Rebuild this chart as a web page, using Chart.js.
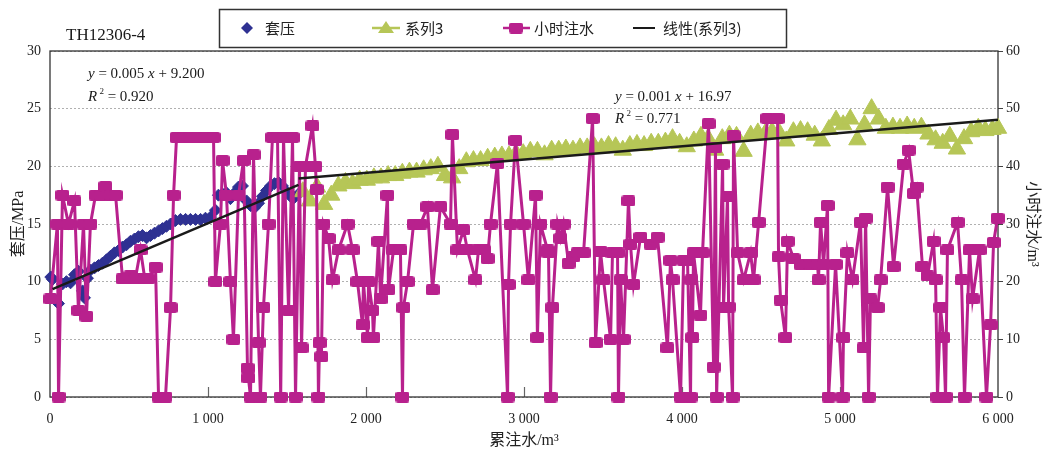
<!DOCTYPE html>
<html>
<head>
<meta charset="utf-8">
<script src="https://cdn.jsdelivr.net/npm/chart.js@4.4.0/dist/chart.umd.min.js"></script>
<style>
  html, body { margin: 0; padding: 0; background: #fff; }
  #wrap { width: 1042px; height: 450px; }
</style>
</head>
<body>
<div id="wrap"><canvas id="chart" width="1042" height="450"></canvas></div>
<script>
// 套压 (MPa, left axis) against 累注水 (m3)
const pressX = [5, 16, 35, 54, 79, 104, 130, 155, 180, 206, 218, 237, 256, 282, 307, 332, 358, 383, 408, 434,
  459, 484, 509, 535, 560, 585, 611, 636, 661, 687, 712, 737, 763, 794, 826, 858, 889, 921, 953, 984,
  1016, 1047, 1066, 1092, 1117, 1142, 1168, 1193, 1218, 1244, 1269, 1294, 1320, 1345, 1370, 1396, 1421, 1446, 1471, 1497,
  1522, 1547, 1573];
const pressY = [10.4, 10.2, 8.4, 8.1, 9.8, 10.0, 9.9, 10.6, 10.9, 9.2, 8.6, 10.3, 11.0, 11.2, 11.4, 11.6, 11.9, 12.2, 12.5, 12.7,
  13.0, 13.2, 13.5, 13.7, 13.9, 14.0, 13.8, 14.0, 14.2, 14.4, 14.6, 14.8, 15.0, 15.3, 15.4, 15.4, 15.4, 15.4, 15.4, 15.5,
  15.6, 16.2, 17.5, 17.6, 17.7, 17.2, 17.7, 18.2, 18.3, 17.0, 16.6, 16.4, 16.8, 17.4, 17.9, 18.3, 18.5, 18.6, 18.3, 17.8,
  17.4, 17.3, 17.6];

// 系列3 (MPa, left axis)
const s3X = [1600, 1645, 1690, 1735, 1780, 1825, 1870, 1915, 1960, 2005, 2050, 2095, 2140, 2185, 2230, 2275, 2320, 2365, 2410, 2455,
  2500, 2545, 2590, 2635, 2680, 2725, 2770, 2815, 2860, 2905, 2950, 2995, 3040, 3085, 3130, 3175, 3220, 3265, 3310, 3355,
  3400, 3445, 3490, 3535, 3580, 3625, 3670, 3715, 3760, 3805, 3850, 3895, 3940, 3985, 4030, 4075, 4120, 4165, 4210, 4255,
  4300, 4345, 4390, 4435, 4480, 4525, 4570, 4615, 4660, 4705, 4750, 4795, 4840, 4885, 4930, 4975, 5020, 5065, 5110, 5155,
  5200, 5245, 5290, 5335, 5380, 5425, 5470, 5515, 5560, 5605, 5650, 5695, 5740, 5785, 5830, 5875, 5920, 5965, 6000];
const s3Y = [17.8, 17.0, 18.2, 16.7, 17.5, 18.3, 18.6, 18.5, 18.8, 18.8, 19.0, 19.0, 19.2, 19.2, 19.4, 19.5, 19.5, 19.7, 19.8, 20.0,
  19.2, 19.0, 19.8, 20.4, 20.5, 20.5, 20.7, 20.8, 20.9, 20.9, 21.1, 21.1, 21.3, 21.3, 21.0, 21.4, 21.4, 21.5, 21.4, 21.6,
  21.6, 21.7, 21.6, 21.8, 21.7, 21.4, 21.8, 21.9, 21.8, 22.0, 22.0, 22.1, 22.4, 22.0, 21.7, 22.2, 22.6, 22.4, 21.4, 22.4,
  22.7, 22.6, 21.3, 22.7, 22.9, 22.8, 23.0, 22.9, 22.2, 23.0, 23.1, 23.0, 22.7, 22.2, 23.2, 24.0, 23.6, 24.1, 22.3, 23.6,
  25.0, 24.1, 23.3, 23.4, 23.3, 23.5, 23.3, 23.4, 22.8, 22.3, 22.0, 22.6, 21.5, 22.4, 23.0, 23.3, 23.1, 23.2, 23.3];

// 小时注水 (m3, right axis)
const waterX = [3, 47, 54, 79, 117, 155, 180, 212, 231, 256, 288, 320, 351, 383, 415, 459, 490, 509, 540, 573,
  600, 623, 668, 687, 731, 763, 782, 801, 845, 889, 935, 984, 1035, 1047, 1079, 1092, 1117, 1142, 1161, 1193,
  1225, 1250, 1256, 1269, 1288, 1320, 1332, 1351, 1383, 1408, 1440, 1460, 1478, 1510, 1535, 1554, 1579, 1592, 1617, 1661,
  1680, 1687, 1699, 1706, 1718, 1731, 1763, 1788, 1826, 1883, 1915, 1946, 1978, 1984, 2010, 2016, 2041, 2047, 2079, 2092,
  2136, 2142, 2174, 2218, 2231, 2237, 2263, 2301, 2345, 2389, 2421, 2471, 2535, 2547, 2579, 2617, 2642, 2693, 2712, 2744,
  2769, 2788, 2832, 2896, 2902, 2915, 2946, 2997, 3028, 3073, 3085, 3104, 3149, 3155, 3168, 3180, 3212, 3231, 3250, 3282,
  3313, 3339, 3377, 3434, 3453, 3484, 3503, 3548, 3560, 3592, 3598, 3611, 3630, 3661, 3674, 3693, 3737, 3801, 3845, 3908,
  3927, 3940, 3991, 4010, 4035, 4054, 4060, 4066, 4073, 4117, 4130, 4168, 4200, 4212, 4219, 4257, 4263, 4288, 4295, 4320,
  4326, 4352, 4390, 4434, 4453, 4485, 4541, 4605, 4611, 4624, 4655, 4668, 4706, 4750, 4813, 4858, 4864, 4877, 4896, 4921,
  4928, 4972, 5016, 5022, 5047, 5079, 5130, 5149, 5162, 5181, 5193, 5238, 5257, 5301, 5339, 5403, 5434, 5466, 5485, 5522,
  5554, 5592, 5605, 5617, 5636, 5655, 5668, 5680, 5744, 5769, 5788, 5820, 5839, 5883, 5927, 5953, 5972, 5997];
const waterY = [17, 30, 0, 35, 30, 34, 15, 30, 14, 30, 35, 35, 36.5, 35, 35, 20.5, 20.5, 21, 20.5, 25.5,
  20.5, 20.5, 22.5, 0, 0, 15.5, 35, 45, 45, 45, 45, 45, 45, 20, 30, 41, 35, 20, 10, 35,
  41, 5, 3.3, 0, 42, 9.4, 0, 15.5, 30, 45, 45, 0, 45, 15, 45, 0, 40, 8.5, 40, 47,
  40, 36, 0, 9.4, 7, 30, 27.5, 20.3, 25.5, 30, 25.5, 20, 12.5, 20, 10.3, 20, 15, 10.3, 27, 17,
  35, 18.6, 25.5, 25.5, 0, 15.5, 20, 30, 30, 33, 18.6, 33, 30, 45.5, 25.5, 29, 25.5, 20.3, 25.5, 25.5,
  24, 30, 40.5, 0, 19.5, 30, 44.5, 30, 20.3, 35, 10.3, 30, 25.5, 25, 0, 15.5, 30, 27.5, 30, 23.2,
  24.3, 25, 25, 48.3, 9.4, 25.3, 20.3, 10, 25, 25, 0, 20.3, 10, 34, 26.5, 19.5, 27.7, 26.5, 27.7, 8.5,
  23.7, 20.3, 0, 23.7, 23.7, 0, 20.3, 10.3, 25, 14.2, 25, 47.4, 5.2, 43.3, 0, 40.4, 15.6, 34.7, 15.6, 0,
  45.3, 25, 20.3, 25, 20.3, 30.3, 48.3, 48.3, 24.3, 16.8, 10.3, 27, 24, 23, 23, 23, 20.3, 30.3, 23, 33.2,
  0, 23, 0, 10.3, 25, 20.3, 30.3, 8.5, 31, 0, 17, 15.5, 20.3, 36.4, 22.6, 40.4, 42.8, 35.3, 36.4, 22.6,
  21, 27, 20.3, 0, 15.5, 10.3, 0, 25.5, 30.3, 20.3, 0, 25.5, 17, 25.5, 0, 12.5, 26.8, 31];

// trend lines as drawn in the picture
const trendAX = [16, 1573];
const trendAY = [9.36, 18.4];
const trendBX = [1573, 6000];
const trendBY = [18.95, 24.05];

const xTickValues = [0, 1000, 2000, 3000, 4000, 5000, 6000];
const leftTickValues = [0, 5, 10, 15, 20, 25, 30];
const rightTickValues = [0, 10, 20, 30, 40, 50, 60];

const NAVY = '#2E3192';
const GREEN = '#B6C657';
const MAG = '#B8218D';
const SERIF = '"Liberation Serif", "Noto Sans CJK SC", serif';
const CJK = '"Noto Sans CJK SC", "Liberation Serif", sans-serif';

const pts = (xs, ys) => xs.map((x, i) => ({ x: x, y: ys[i] }));

function makeSquare(w, h, color) {
    const c = document.createElement('canvas');
    c.width = w; c.height = h;
    const g = c.getContext('2d');
    g.fillStyle = color;
    g.beginPath();
    if (g.roundRect) g.roundRect(0, 0, w, h, 2.5); else g.rect(0, 0, w, h);
    g.fill();
    return c;
}
const magSquare = makeSquare(14, 11, MAG);

function setTicks(values) {
    return function (scale) { scale.ticks = values.map(v => ({ value: v })); };
}
const fmtThousands = v => v >= 1000 ? String(v).replace(/(\d)(\d{3})$/, '$1 $2') : String(v);

// draws text runs [text, italic, superscript]
function runs(ctx, x, y, parts, size) {
    parts.forEach(p => {
        const sz = p[2] ? size * 0.6 : size;
        ctx.font = (p[1] ? 'italic ' : '') + sz + 'px ' + SERIF;
        ctx.fillText(p[0], x, p[2] ? y - size * 0.45 : y);
        x += ctx.measureText(p[0]).width;
    });
}

const decor = {
    id: 'decor',
    beforeDatasetsDraw(chart) {
        const ctx = chart.ctx, a = chart.chartArea, xs = chart.scales.x;
        ctx.save();
        ctx.strokeStyle = '#666';
        ctx.lineWidth = 1.2;
        xTickValues.slice(1, -1).forEach(v => {
            const px = Math.round(xs.getPixelForValue(v)) + 0.5;
            ctx.beginPath();
            ctx.moveTo(px, a.bottom);
            ctx.lineTo(px, a.bottom - 10);
            ctx.stroke();
        });
        ctx.strokeStyle = '#333';
        ctx.lineWidth = 1.3;
        ctx.strokeRect(a.left, a.top, a.right - a.left, a.bottom - a.top);
        ctx.restore();
    },
    afterDraw(chart) {
        const ctx = chart.ctx;
        ctx.save();
        ctx.fillStyle = '#1a1a1a';
        ctx.textBaseline = 'alphabetic';
        ctx.font = '17px ' + SERIF;
        ctx.fillText('TH12306-4', 66, 40);

        runs(ctx, 88, 78, [['y', true], [' = 0.005 '], ['x', true], [' + 9.200']], 15);
        runs(ctx, 88, 101, [['R', true], [' 2', false, true], [' = 0.920']], 15);
        runs(ctx, 615, 101, [['y', true], [' = 0.001 '], ['x', true], [' + 16.97']], 15);
        runs(ctx, 615, 123, [['R', true], [' 2', false, true], [' = 0.771']], 15);

        // legend
        ctx.strokeStyle = '#333';
        ctx.lineWidth = 1.5;
        ctx.strokeRect(219.5, 9.5, 567, 38);
        const cy = 28;
        ctx.fillStyle = NAVY;
        ctx.beginPath();
        ctx.moveTo(247 - 6, cy); ctx.lineTo(247, cy - 6); ctx.lineTo(247 + 6, cy); ctx.lineTo(247, cy + 6);
        ctx.closePath(); ctx.fill();

        ctx.strokeStyle = GREEN; ctx.lineWidth = 2.5;
        ctx.beginPath(); ctx.moveTo(372, cy); ctx.lineTo(400, cy); ctx.stroke();
        ctx.fillStyle = GREEN;
        ctx.beginPath(); ctx.moveTo(386, cy - 7); ctx.lineTo(394, cy + 5); ctx.lineTo(378, cy + 5); ctx.closePath(); ctx.fill();

        ctx.strokeStyle = MAG; ctx.lineWidth = 2.5;
        ctx.beginPath(); ctx.moveTo(503, cy); ctx.lineTo(530, cy); ctx.stroke();
        ctx.drawImage(magSquare, 509, cy - 5.5);

        ctx.strokeStyle = '#1a1a1a'; ctx.lineWidth = 2;
        ctx.beginPath(); ctx.moveTo(633, cy); ctx.lineTo(655, cy); ctx.stroke();

        ctx.fillStyle = '#222';
        ctx.textBaseline = 'middle';
        ctx.font = '15px ' + CJK;
        ctx.fillText('套压', 265, cy);
        ctx.fillText('系列3', 405, cy);
        ctx.fillText('小时注水', 534, cy);
        ctx.fillText('线性(系列3)', 663, cy);
        ctx.restore();
    }
};

new Chart(document.getElementById('chart'), {
    type: 'scatter',
    data: {
        datasets: [
            { label: '线性(系列3)', data: pts(trendBX, trendBY), showLine: true, borderColor: '#1a1a1a', borderWidth: 2.5,
              pointRadius: 0, yAxisID: 'y', order: 0 },
            { label: 'trend-a', data: pts(trendAX, trendAY), showLine: true, borderColor: '#1a1a1a', borderWidth: 2.5,
              pointRadius: 0, yAxisID: 'y', order: 0 },
            { label: '小时注水', data: pts(waterX, waterY), showLine: true, borderColor: MAG, borderWidth: 3,
              pointStyle: magSquare, pointRadius: 6, yAxisID: 'y2', order: 1, clip: false },
            { label: '系列3', data: pts(s3X, s3Y), pointStyle: 'triangle', pointRadius: 10, backgroundColor: GREEN,
              borderColor: GREEN, borderWidth: 1, yAxisID: 'y', order: 2, clip: false },
            { label: '套压', data: pts(pressX, pressY), pointStyle: 'rectRot', pointRadius: 6, backgroundColor: NAVY,
              borderColor: NAVY, borderWidth: 1, yAxisID: 'y', order: 3, clip: false }
        ]
    },
    options: {
        responsive: false,
        animation: false,
        layout: { padding: { top: 51, left: 0, right: 0, bottom: 0 } },
        plugins: { legend: { display: false }, tooltip: { enabled: false } },
        scales: {
            x: {
                type: 'linear', min: 0, max: 6000,
                afterBuildTicks: setTicks(xTickValues),
                afterFit: s => { s.height = 53; },
                grid: { display: false },
                border: { display: false },
                ticks: { callback: fmtThousands, color: '#222', padding: 6, maxRotation: 0,
                         font: { family: SERIF, size: 14 } },
                title: { display: true, text: '累注水/m³', color: '#222', padding: { top: 2, bottom: 0 },
                         font: { family: SERIF, size: 16 } }
            },
            y: {
                position: 'left', min: 0, max: 30,
                afterBuildTicks: setTicks(leftTickValues),
                afterFit: s => { s.width = 50; },
                grid: { color: '#b0b0b0', lineWidth: 1, drawTicks: false },
                border: { display: false, dash: [2, 2] },
                ticks: { color: '#222', padding: 9, font: { family: SERIF, size: 14 } },
                title: { display: true, text: '套压/MPa', color: '#222', padding: { top: 9, bottom: 0 },
                         font: { family: SERIF, size: 16 } }
            },
            y2: {
                position: 'right', min: 0, max: 60,
                afterBuildTicks: setTicks(rightTickValues),
                afterFit: s => { s.width = 44; },
                grid: { drawOnChartArea: false, drawTicks: true, tickLength: 5, color: '#444' },
                border: { display: false },
                ticks: { color: '#222', padding: 3, font: { family: SERIF, size: 14 } },
                title: { display: true, text: '小时注水/m³', color: '#222', padding: { top: 0, bottom: 4 },
                         font: { family: SERIF, size: 16 } }
            }
        }
    },
    plugins: [decor]
});
</script>
</body>
</html>
